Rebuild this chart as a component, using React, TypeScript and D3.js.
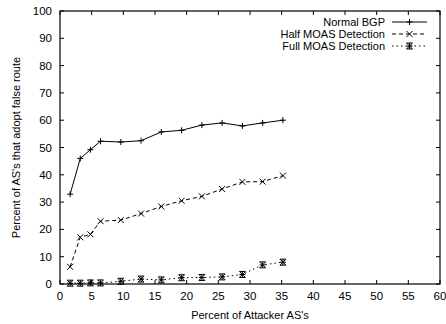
import React from "react";
import * as d3 from "d3";

const xValues = [1.6, 3.2, 4.8, 6.4, 9.6, 12.8, 16, 19.2, 22.4, 25.6, 28.8, 32, 35.2];
const normalBGP = [32.9, 46.0, 49.2, 52.3, 52.0, 52.5, 55.7, 56.3, 58.2, 59.0, 57.9, 59.0, 60.0];
const halfMOAS = [6.3, 17.1, 18.2, 23.0, 23.4, 25.8, 28.4, 30.5, 32.1, 34.8, 37.4, 37.5, 39.7];
const fullMOAS = [0.3, 0.3, 0.4, 0.4, 1.0, 1.8, 1.5, 2.3, 2.4, 2.6, 3.5, 7.0, 8.0];
const xTicks = [0, 5, 10, 15, 20, 25, 30, 35, 40, 45, 50, 55, 60];
const yTicks = [0, 10, 20, 30, 40, 50, 60, 70, 80, 90, 100];
const seriesNames = ["Normal BGP", "Half MOAS Detection", "Full MOAS Detection"];

const W = 446, H = 324;
const M = { left: 60, right: 6, top: 11, bottom: 40 };

function Marker({ kind, x, y }: { kind: number; x: number; y: number }) {
  const s = 3;
  const plus = <path d={`M${x - s},${y}H${x + s}M${x},${y - s}V${y + s}`} />;
  const cross = <path d={`M${x - s},${y - s}L${x + s},${y + s}M${x - s},${y + s}L${x + s},${y - s}`} />;
  if (kind === 0) return <g stroke="#000" strokeWidth={1}>{plus}</g>;
  if (kind === 1) return <g stroke="#000" strokeWidth={1}>{cross}</g>;
  return <g stroke="#000" strokeWidth={1}>{plus}{cross}<path d={`M${x - s},${y - s}H${x + s}M${x - s},${y + s}H${x + s}`} /></g>;
}

export default function App() {
  const x = d3.scaleLinear().domain([0, 60]).range([M.left, W - M.right]);
  const y = d3.scaleLinear().domain([0, 100]).range([H - M.bottom, M.top]);
  const series = [normalBGP, halfMOAS, fullMOAS];
  const dashes = ["none", "4,3", "1.5,3"];
  const line = d3.line<number>().x((_, i) => x(xValues[i])).y(d => y(d));
  const tl = 4;
  const font = "Liberation Sans, Arial, Helvetica, sans-serif";
  const legendY = [22, 34, 46];
  return (
    <svg width={W} height={H} style={{ position: "absolute", left: 0, top: 0, background: "#fff" }} fontFamily={font}>
      <rect x={0} y={0} width={W} height={H} fill="#fff" />
      {/* ticks */}
      <g stroke="#000" strokeWidth={1}>
        {xTicks.map(t => (
          <g key={"x" + t}>
            <line x1={x(t)} x2={x(t)} y1={y(0)} y2={y(0) - tl} />
            <line x1={x(t)} x2={x(t)} y1={y(100)} y2={y(100) + tl} />
          </g>
        ))}
        {yTicks.map(t => (
          <g key={"y" + t}>
            <line x1={x(0)} x2={x(0) + tl} y1={y(t)} y2={y(t)} />
            <line x1={x(60)} x2={x(60) - tl} y1={y(t)} y2={y(t)} />
          </g>
        ))}
      </g>
      <rect x={x(0)} y={y(100)} width={x(60) - x(0)} height={y(0) - y(100)} fill="none" stroke="#000" strokeWidth={1.2} />
      {xTicks.map(t => (
        <text key={"xl" + t} x={x(t)} y={y(0) + 16} fontSize={11.5} textAnchor="middle" fill="#000">{t}</text>
      ))}
      {yTicks.map(t => (
        <text key={"yl" + t} x={x(0) - 8} y={y(t) + 4} fontSize={11.5} textAnchor="end" fill="#000">{t}</text>
      ))}
      <text x={(x(0) + x(60)) / 2} y={H - 5} fontSize={11} textAnchor="middle" fill="#000">Percent of Attacker AS's</text>
      <text transform={`translate(20,${(y(0) + y(100)) / 2}) rotate(-90)`} fontSize={11} textAnchor="middle" fill="#000">Percent of AS's that adopt false route</text>
      {series.map((s, k) => (
        <g key={"s" + k}>
          <path d={line(s) || ""} fill="none" stroke="#000" strokeWidth={1} strokeDasharray={dashes[k]} />
          {s.map((v, i) => <Marker key={i} kind={k} x={x(xValues[i])} y={y(v)} />)}
        </g>
      ))}
      {seriesNames.map((n, k) => (
        <g key={"l" + k}>
          <text x={385} y={legendY[k] + 4} fontSize={11} textAnchor="end" fill="#000">{n}</text>
          <line x1={392} x2={427} y1={legendY[k]} y2={legendY[k]} stroke="#000" strokeWidth={1} strokeDasharray={dashes[k]} />
          <Marker kind={k} x={409.5} y={legendY[k]} />
        </g>
      ))}
    </svg>
  );
}
